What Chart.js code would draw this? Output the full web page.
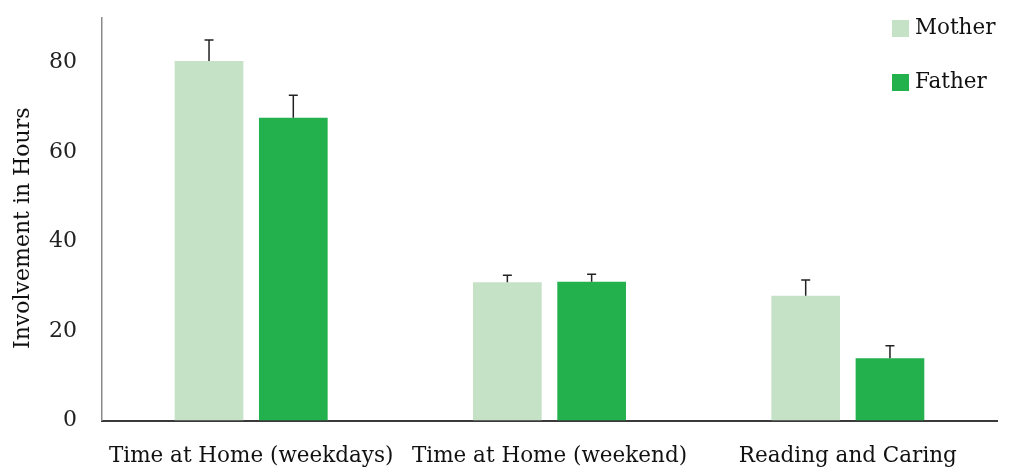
<!DOCTYPE html>
<html>
<head>
<meta charset="utf-8">
<script src="https://cdn.jsdelivr.net/npm/chart.js@4.4.1/dist/chart.umd.min.js"></script>
<style>
  html, body { margin: 0; padding: 0; background: #ffffff; }
  #wrap { width: 1009px; height: 470px; position: relative; }
</style>
</head>
<body>
<div id="wrap"><canvas id="chart" width="1009" height="470"></canvas></div>
<script>
// Parental involvement (hours), mean with upward error bars
const categories = ['Time at Home (weekdays)', 'Time at Home (weekend)', 'Reading and Caring'];
const seriesNames = ['Mother', 'Father'];
const motherHours = [80.4, 30.9, 27.9];
const fatherHours = [67.7, 31.0, 13.9];
const motherError = [4.7, 1.6, 3.5];
const fatherError = [5.0, 1.7, 2.8];
const yTicks = [0, 20, 40, 60, 80];
const yMax = 90;
const yTitle = 'Involvement in Hours';

const MOTHER_COLOR = '#c5e2c7';
const FATHER_COLOR = '#22b14c';
const SERIF = '"DejaVu Serif", "Liberation Serif", serif';

// Upward-only error bars with a small cap
const errorBars = {
  id: 'errorBars',
  afterDatasetsDraw(chart) {
    const ctx = chart.ctx;
    const y = chart.scales.y;
    ctx.save();
    ctx.strokeStyle = '#222222';
    ctx.lineWidth = 1.5;
    chart.data.datasets.forEach((ds, i) => {
      const meta = chart.getDatasetMeta(i);
      meta.data.forEach((bar, j) => {
        const top = y.getPixelForValue(ds.data[j] + ds.errors[j]);
        const base = bar.y;
        ctx.beginPath();
        ctx.moveTo(bar.x, base);
        ctx.lineTo(bar.x, top);
        ctx.moveTo(bar.x - 4.5, top);
        ctx.lineTo(bar.x + 4.5, top);
        ctx.stroke();
      });
    });
    ctx.restore();
  }
};

// Rotated y-axis title, sitting slightly below the plot's mid-height
const axisTitle = {
  id: 'axisTitle',
  afterDraw(chart) {
    const ctx = chart.ctx;
    const area = chart.chartArea;
    ctx.save();
    ctx.translate(23, (area.top + area.bottom) / 2 + 9);
    ctx.rotate(-Math.PI / 2);
    ctx.font = '22px ' + SERIF;
    ctx.fillStyle = '#111111';
    ctx.textAlign = 'center';
    ctx.textBaseline = 'middle';
    ctx.fillText(yTitle, 0, 0);
    ctx.restore();
  }
};

// Stacked legend in the upper right corner
const cornerLegend = {
  id: 'cornerLegend',
  afterDraw(chart) {
    const ctx = chart.ctx;
    const area = chart.chartArea;
    const x0 = area.right - 105;
    ctx.save();
    ctx.font = '21.5px ' + SERIF;
    ctx.textBaseline = 'middle';
    ctx.textAlign = 'left';
    chart.data.datasets.forEach((ds, i) => {
      const cy = 28.5 + i * 54;
      ctx.fillStyle = ds.backgroundColor;
      ctx.fillRect(x0, cy - 8.5, 17, 17);
      ctx.fillStyle = '#111111';
      ctx.fillText(ds.label, x0 + 23, cy);
    });
    ctx.restore();
  }
};

new Chart(document.getElementById('chart'), {
  type: 'bar',
  data: {
    labels: categories,
    datasets: [
      { label: seriesNames[0], data: motherHours, errors: motherError, backgroundColor: MOTHER_COLOR },
      { label: seriesNames[1], data: fatherHours, errors: fatherError, backgroundColor: FATHER_COLOR }
    ]
  },
  options: {
    responsive: false,
    animation: false,
    events: [],
    layout: { padding: { left: 0, right: 12, top: 18, bottom: 0 } },
    datasets: { bar: { categoryPercentage: 0.565, barPercentage: 0.815 } },
    plugins: { legend: { display: false }, tooltip: { enabled: false } },
    scales: {
      x: {
        grid: { display: false, drawTicks: false },
        border: { display: true, color: '#3a3a3a', width: 2 },
        ticks: { color: '#111111', font: { family: SERIF, size: 21.5 }, padding: 23, maxRotation: 0, autoSkip: false },
        afterFit(scale) { scale.height = 49.5; }
      },
      y: {
        min: 0,
        max: yMax,
        grid: { display: false, drawTicks: false },
        border: { display: true, color: '#8a8a8a', width: 1.5 },
        afterBuildTicks(scale) { scale.ticks = yTicks.map(v => ({ value: v })); },
        ticks: { color: '#222222', font: { family: SERIF, size: 22 }, padding: 25 },
        title: { display: false },
        afterFit(scale) {
          scale.width = 102;
          scale.paddingTop = 0;
          scale.paddingBottom = 0;
        }
      }
    }
  },
  plugins: [errorBars, axisTitle, cornerLegend]
});
</script>
</body>
</html>
